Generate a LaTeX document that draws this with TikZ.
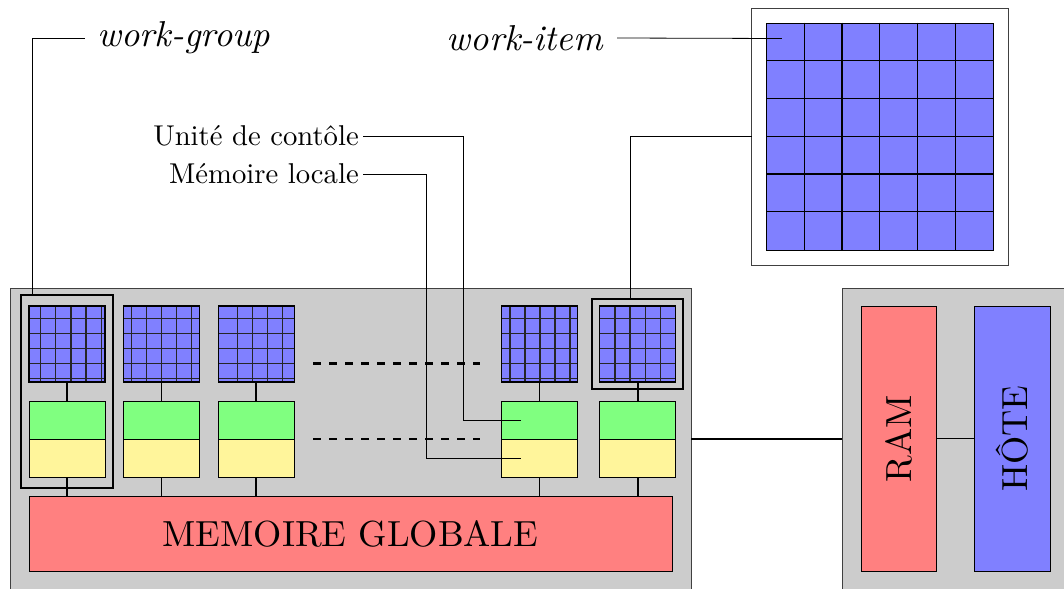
\documentclass[tikz,border=0pt]{standalone}
\usepackage{fontspec}
\setmainfont{lmroman10-regular.otf}[ItalicFont=lmroman10-italic.otf]
\definecolor{gfill}{RGB}{204,204,204}
\definecolor{wiblue}{RGB}{128,128,255}
\definecolor{cugreen}{RGB}{128,255,128}
\definecolor{lmyellow}{RGB}{255,245,155}
\definecolor{memred}{RGB}{255,128,128}
\begin{document}
\begin{tikzpicture}[x=0.75pt,y=-0.75pt,
  box/.style={draw=black,line width=0.6pt,inner sep=0pt,outer sep=0pt},
  gbox/.style={box,fill=gfill,draw=black!75},
  wibox/.style={box,fill=wiblue,minimum width=57pt,minimum height=57pt},
  cubox/.style={box,fill=cugreen,minimum width=57pt,minimum height=28.5pt},
  lmbox/.style={box,fill=lmyellow,minimum width=57pt,minimum height=28.5pt},
  thickbox/.style={draw=black,line width=1.5pt,inner sep=0pt,outer sep=0pt},
  gline/.style={line width=0.9pt,draw=black!85},
  link/.style={line width=1.2pt},
  thin/.style={line width=0.6pt},
  dots/.style={line width=2.2pt,dash pattern=on 6pt off 6pt},
  bigfont/.style={font=\fontsize{27.2}{32}\selectfont},
  labfont/.style={font=\fontsize{21.5}{26}\selectfont},
  itfont/.style={font=\fontsize{27}{32}\selectfont\itshape}]
\clip (0,0) rectangle (1064,589);
% gray boxes
\node[gbox,minimum width=510.75pt,minimum height=234pt] (gpu) at (350.5,444) {};
\node[gbox,minimum width=174.75pt,minimum height=234pt] (host) at (958.5,444) {};
% work-item grids
\node[wibox] (wi1) at (67,344) {};
\node[wibox] (wi2) at (161.3,344) {};
\node[wibox] (wi3) at (256.2,344) {};
\node[wibox] (wi4) at (539.5,344) {};
\node[wibox] (wi5) at (637.8,344) {};
\foreach \x in {40.7,55.8,70.9,86.0,101.2,131.7,146.7,161.7,176.7,191.7,237.3,252.3,267.3,282.7,510,525,540,555,570,615,630,645.7,660.7}
  \draw[gline] (\x,306) -- (\x,382);
\foreach \y in {318.3,333.7,348.3,363.7,378.3}
  \foreach \a/\b in {29/105,123.3/199.3,218.3/294.1,501.7/577.3,600/675.7}
    \draw[gline] (\a,\y) -- (\b,\y);
\foreach \i in {1,...,5}{
  \node[box,draw=black,line width=0.8pt,minimum width=57pt,minimum height=57pt] (wo\i) at (wi\i) {};
}
% control units and local memories
\foreach \i/\x in {1/67,2/161.3,3/256.2,4/539.5,5/637.8}{
  \node[cubox] (cu\i) at (\x,420) {};
  \node[lmbox] (lm\i) at (\x,458) {};
}
% global memory
\node[box,fill=memred,minimum width=482.25pt,minimum height=56.25pt,bigfont] (mem) at (350.5,533.5) {MEMOIRE GLOBALE};
% links
\foreach \i in {1,...,5}{
  \draw[link] (wi\i.south) -- (cu\i.north);
  \draw[link] (lm\i.south) -- (lm\i.south |- mem.north);
}
% dashed
\coordinate (da1) at (313,363.3);
\coordinate (db1) at (480,363.3);
\coordinate (da2) at (313,439);
\coordinate (db2) at (480,439);
\draw[dots] (da1) -- (db1);
\draw[dots] (da2) -- (db2);
% RAM / HOTE
\node[box,fill=memred,minimum width=56.75pt,minimum height=198.75pt] (ram) at (898.9,438.5) {};
\node[bigfont,rotate=90] at (ram) {RAM};
\node[box,fill=wiblue,minimum width=56.75pt,minimum height=198.75pt] (hote) at (1012.2,438.5) {};
\node[bigfont,rotate=90] at (hote) {HÔTE};
\draw[link] (ram.east) -- (hote.west);
\draw[link] (gpu.east |- cu5.south) -- (host.west |- cu5.south);
% work-group and work-item frames
\node[thickbox,minimum width=68.8pt,minimum height=145pt] (wg) at (66.85,391.65) {};
\node[thickbox,minimum width=68.25pt,minimum height=67.7pt] (wib) at (637.8,344.15) {};
% big work-item grid
\node[box,fill=white,draw=black!75,minimum width=192.75pt,minimum height=192.75pt] (big) at (880,136.5) {};
\node[box,fill=wiblue,minimum width=170.25pt,minimum height=170.25pt] (bgrid) at (880,136.4) {};
\foreach \k in {1,...,5}{
  \draw[line width=0.8pt] (766.3+37.83*\k,22.7) -- (766.3+37.83*\k,250);
  \draw[line width=0.8pt] (766.3,22.7+37.83*\k) -- (993.7,22.7+37.83*\k);
}
% labels
\node[itfont,anchor=west,inner xsep=9pt,inner ysep=0pt] (wgl) at (85,38) {work-group};
\node[itfont,anchor=east,inner xsep=10.5pt,inner ysep=0pt] (wil) at (617,38) {work-item};
\node[labfont,anchor=east,inner xsep=3pt,inner ysep=0pt] (ucl) at (363,136) {Unité de contôle};
\node[labfont,anchor=east,inner xsep=3pt,inner ysep=0pt] (mll) at (363,174) {Mémoire locale};
\coordinate (cell) at ([xshift=11.5pt,yshift=-11.7pt]bgrid.north west);
\draw[thin] ([xshift=8.8pt]wg.north west) |- (wgl.west);
\draw[thin] (wil.east) -- (cell);
\draw[thin] ([xshift=-5.5pt]wib.north) |- (big.west);
\draw[thin] (ucl.east) -| ([xshift=-28.65pt]cu4.west) -- ([xshift=14.25pt]cu4.west);
\draw[thin] (mll.east) -| ([xshift=-56.4pt]lm4.west) -- ([xshift=14.25pt]lm4.west);
\end{tikzpicture}
\end{document}
